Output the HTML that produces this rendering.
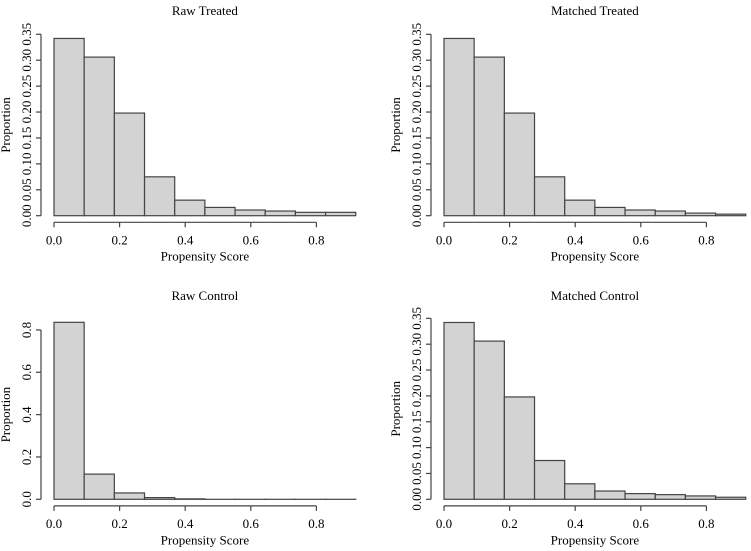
<!DOCTYPE html>
<html><head><meta charset="utf-8"><style>
body{margin:0;background:#fff}
svg{display:block;font-family:"Liberation Serif",serif}
</style></head><body>
<svg id="c" width="751" height="551" viewBox="0 0 751 551"></svg>
<script>
const binEdges=[0,0.092,0.184,0.276,0.368,0.46,0.552,0.644,0.736,0.828,0.92];
const rawTreated=[0.342,0.306,0.198,0.075,0.030,0.016,0.011,0.009,0.0065,0.0065];
const matchedTreated=[0.342,0.306,0.198,0.075,0.030,0.016,0.011,0.009,0.005,0.003];
const rawControl=[0.836,0.119,0.030,0.008,0.002,0,0,0,0,0];
const matchedControl=[0.342,0.306,0.198,0.075,0.030,0.016,0.011,0.009,0.0065,0.004];
const xTicks=[0,0.2,0.4,0.6,0.8];
const xTickLabels=["0.0","0.2","0.4","0.6","0.8"];
const yTicksSmall=[0,0.05,0.1,0.15,0.2,0.25,0.3,0.35];
const yTickLabelsSmall=["0.00","0.05","0.10","0.15","0.20","0.25","0.30","0.35"];
const yTicksLarge=[0,0.2,0.4,0.6,0.8];
const yTickLabelsLarge=["0.0","0.2","0.4","0.6","0.8"];

const svg=document.getElementById('c');
const NS='http://www.w3.org/2000/svg';
function mk(tag,attrs,parent,text){const e=document.createElementNS(NS,tag);for(const k in attrs)e.setAttribute(k,attrs[k]);if(text!==undefined)e.textContent=text;parent.appendChild(e);return e;}

const FS='13';
const panels=[
 {name:'raw-treated',title:'Raw Treated',vals:rawTreated,ox:54,yaxisX:41,y0:215.7,yPerUnit:518.3,titleY:15,yt:yTicksSmall,ytl:yTickLabelsSmall,ylabX:10},
 {name:'matched-treated',title:'Matched Treated',vals:matchedTreated,ox:444,yaxisX:431,y0:215.7,yPerUnit:518.3,titleY:15,yt:yTicksSmall,ytl:yTickLabelsSmall,ylabX:400},
 {name:'raw-control',title:'Raw Control',vals:rawControl,ox:54,yaxisX:41,y0:499.3,yPerUnit:211.7,titleY:300,yt:yTicksLarge,ytl:yTickLabelsLarge,ylabX:10},
 {name:'matched-control',title:'Matched Control',vals:matchedControl,ox:444,yaxisX:431,y0:499.3,yPerUnit:517,titleY:300,yt:yTicksSmall,ytl:yTickLabelsSmall,ylabX:400}
];
const xPerUnit=328;
panels.forEach(p=>{
 const g=mk('g',{},svg);
 
 
 const X=v=>p.ox+v*xPerUnit, Y=v=>p.y0-v*p.yPerUnit;
 const t=mk('text',{x:(X(0)+X(0.92))/2,y:p.titleY,'text-anchor':'middle','font-size':FS},g,p.title);
 
 p.vals.forEach((v,i)=>{
  const x1=X(binEdges[i]),x2=X(binEdges[i+1]);
  const r=mk('rect',{x:x1,y:Y(v),width:x2-x1,height:Math.max(Y(0)-Y(v),0.01),fill:'#d3d3d3',stroke:'#444','stroke-width':1.2},g);
  
 });
 const xa=mk('g',{},g);
 
 const axY=p.y0+6.6;
 mk('line',{x1:X(0),x2:X(0.8),y1:axY,y2:axY,stroke:'#444','stroke-width':1.2},xa);
 xTicks.forEach((v,i)=>{
  mk('line',{x1:X(v),x2:X(v),y1:axY,y2:axY+5,stroke:'#444','stroke-width':1.2},xa);
  mk('text',{x:X(v),y:axY+22,'text-anchor':'middle','font-size':FS},xa,xTickLabels[i]);
 });
 const xl=mk('text',{x:(X(0)+X(0.92))/2,y:p.y0+45,'text-anchor':'middle','font-size':FS},g,'Propensity Score');
 
 const ya=mk('g',{},g);
 
 const yt=p.yt;
 mk('line',{x1:p.yaxisX,x2:p.yaxisX,y1:Y(yt[0]),y2:Y(yt[yt.length-1]),stroke:'#444','stroke-width':1.2},ya);
 yt.forEach((v,i)=>{
  mk('line',{x1:p.yaxisX-5,x2:p.yaxisX,y1:Y(v),y2:Y(v),stroke:'#444','stroke-width':1.2},ya);
  mk('text',{x:p.yaxisX-10,y:Y(v),'text-anchor':'middle','font-size':FS,transform:`rotate(-90 ${p.yaxisX-10} ${Y(v)})`},ya,p.ytl[i]);
 });
 const yc=(p.y0+Y(yt[yt.length-1]))/2;
 const yl=mk('text',{x:p.ylabX,y:yc,'text-anchor':'middle','font-size':FS,transform:`rotate(-90 ${p.ylabX} ${yc})`},g,'Proportion');
 
});
</script>
</body></html>
